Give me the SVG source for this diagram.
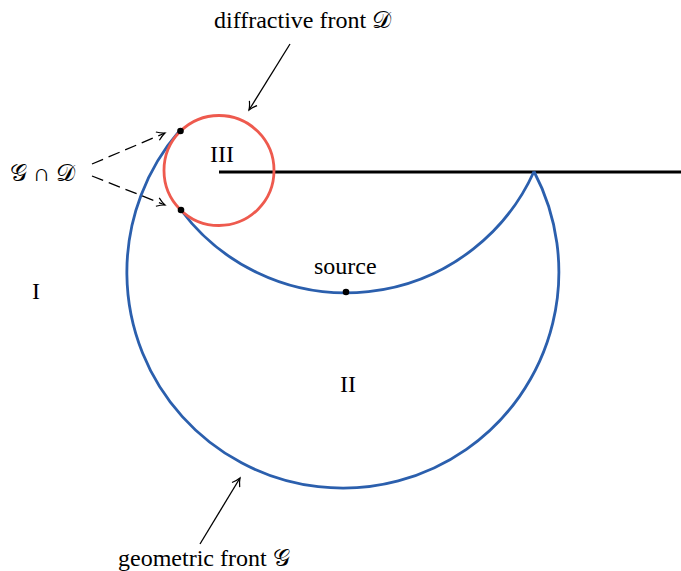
<svg xmlns="http://www.w3.org/2000/svg" width="681" height="571" viewBox="0 0 681 571">
<defs>
<marker id="arr" markerWidth="14" markerHeight="14" refX="11" refY="7" orient="auto" markerUnits="userSpaceOnUse">
<path d="M3,2.5 Q7.5,5.8 11,7 Q7.5,8.2 3,11.5" fill="none" stroke="#000" stroke-width="1.2"/>
</marker>
</defs>
<style>
text{font-family:"Liberation Serif","DejaVu Serif","DejaVu Sans",serif;font-size:24px;fill:#000}
.blue{fill:none;stroke:#2b5fad;stroke-width:2.8}
.red{fill:none;stroke:#ee5a4e;stroke-width:2.8}
.wall{stroke:#000;stroke-width:2.8}
.lead{stroke:#000;stroke-width:1.3;fill:none;marker-end:url(#arr)}
.dash{stroke-dasharray:12 6}
.dot{fill:#000}
</style>
<rect width="681" height="571" fill="#fff"/>
<g id="wall"><line class="wall" x1="219" y1="172" x2="681" y2="172"/></g>
<g id="geometric-front">
<path class="blue" d="M534,171.5 A216,216 0 1 1 179.6,130.7"/>
<path class="blue" d="M181,210 A206,206 0 0 0 534,171.5"/>
</g>
<g id="diffractive-front"><circle class="red" cx="219" cy="170.5" r="55"/></g>
<g id="points">
<circle class="dot" cx="180.5" cy="131" r="3.3"/>
<circle class="dot" cx="181" cy="210" r="3.3"/>
<circle class="dot" cx="346" cy="292" r="3.3"/>
</g>
<g id="connectors">
<line class="lead" x1="290" y1="44" x2="249" y2="110"/>
<line class="lead" x1="200" y1="544" x2="240" y2="478"/>
<line class="lead dash" x1="92" y1="164" x2="165" y2="133"/>
<line class="lead dash" x1="92" y1="176" x2="165" y2="205"/>
</g>
<g id="labels">
<text x="214" y="28">diffractive front 𝒟</text>
<text x="10" y="181">𝒢 ∩ 𝒟</text>
<text x="210" y="162">III</text>
<text x="36" y="299" text-anchor="middle">I</text>
<text x="348" y="392" text-anchor="middle">II</text>
<text x="314" y="274">source</text>
<text x="118" y="566">geometric front 𝒢</text>
</g>
</svg>
